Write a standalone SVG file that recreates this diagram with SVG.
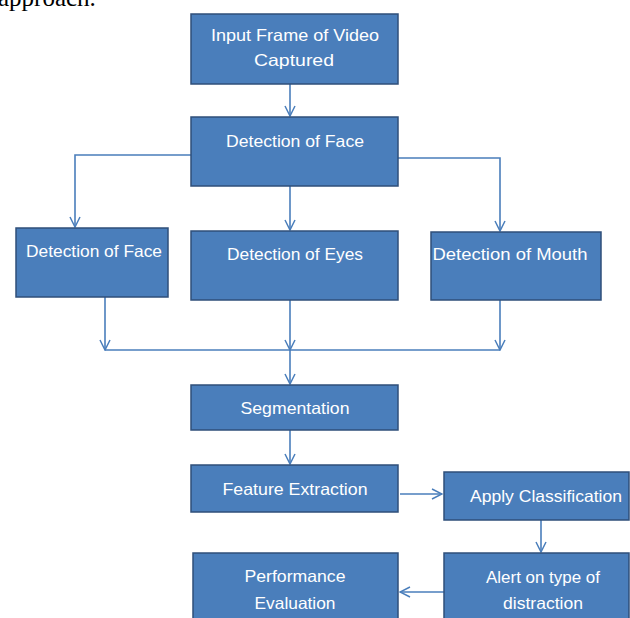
<svg xmlns="http://www.w3.org/2000/svg" width="630" height="618" viewBox="0 0 630 618">
<defs>
<style>
.box{fill:#4a7ebb;stroke:#2f4f7a;stroke-width:1.5}
.t{font-family:"Liberation Sans",Arial,sans-serif;font-size:16.5px;fill:#ffffff;text-anchor:middle}
.c{fill:none;stroke:#4a7ebb;stroke-width:1.6}
.cap{font-family:"Liberation Serif","Times New Roman",serif;font-size:25px;fill:#000}
</style>
<marker id="ah" viewBox="0 0 12 12" refX="11" refY="6" markerWidth="12" markerHeight="12" markerUnits="userSpaceOnUse" orient="auto">
<path d="M1,1 L11,6 L1,11" fill="none" stroke="#4a7ebb" stroke-width="1.5"/>
</marker>
</defs>
<rect width="630" height="618" fill="#ffffff"/>
<text class="cap" x="-2" y="6">approach.</text>
<g id="connectors">
<line class="c" x1="290" y1="84" x2="290" y2="116" marker-end="url(#ah)"/>
<polyline class="c" points="191,155 75,155 75,227" marker-end="url(#ah)"/>
<line class="c" x1="290" y1="186" x2="290" y2="230" marker-end="url(#ah)"/>
<polyline class="c" points="398,158 500,158 500,231" marker-end="url(#ah)"/>
<line class="c" x1="105" y1="297" x2="105" y2="350" marker-end="url(#ah)"/>
<line class="c" x1="290" y1="300" x2="290" y2="350" marker-end="url(#ah)"/>
<line class="c" x1="500" y1="300" x2="500" y2="350" marker-end="url(#ah)"/>
<line class="c" x1="105" y1="350" x2="500" y2="350"/>
<line class="c" x1="290" y1="350" x2="290" y2="384" marker-end="url(#ah)"/>
<line class="c" x1="290" y1="430" x2="290" y2="464" marker-end="url(#ah)"/>
<line class="c" x1="400" y1="494" x2="442" y2="494" marker-end="url(#ah)"/>
<line class="c" x1="541" y1="520" x2="541" y2="552" marker-end="url(#ah)"/>
<line class="c" x1="444" y1="592" x2="400" y2="592" marker-end="url(#ah)"/>
</g>
<g id="n1"><rect class="box" x="191" y="14" width="207" height="70"/>
<text class="t" x="295" y="41" textLength="168" lengthAdjust="spacingAndGlyphs">Input Frame of Video</text>
<text class="t" x="294" y="66" textLength="80" lengthAdjust="spacingAndGlyphs">Captured</text></g>
<g id="n2"><rect class="box" x="191" y="117" width="207" height="69"/>
<text class="t" x="295" y="147" textLength="138" lengthAdjust="spacingAndGlyphs">Detection of Face</text></g>
<g id="n3"><rect class="box" x="16" y="228" width="152" height="69"/>
<text class="t" x="94" y="257" textLength="136" lengthAdjust="spacingAndGlyphs">Detection of Face</text></g>
<g id="n4"><rect class="box" x="191" y="231" width="207" height="69"/>
<text class="t" x="295" y="260" textLength="136" lengthAdjust="spacingAndGlyphs">Detection of Eyes</text></g>
<g id="n5"><rect class="box" x="431" y="232" width="170" height="68"/>
<text class="t" x="510" y="260" textLength="155" lengthAdjust="spacingAndGlyphs">Detection of Mouth</text></g>
<g id="n6"><rect class="box" x="191" y="385" width="207" height="45"/>
<text class="t" x="295" y="414" textLength="109" lengthAdjust="spacingAndGlyphs">Segmentation</text></g>
<g id="n7"><rect class="box" x="191" y="465" width="207" height="47"/>
<text class="t" x="295" y="495" textLength="145" lengthAdjust="spacingAndGlyphs">Feature Extraction</text></g>
<g id="n8"><rect class="box" x="444" y="472" width="185" height="48"/>
<text class="t" x="546" y="502" textLength="152" lengthAdjust="spacingAndGlyphs">Apply Classification</text></g>
<g id="n9"><rect class="box" x="444" y="553" width="185" height="70"/>
<text class="t" x="543" y="583" textLength="114" lengthAdjust="spacingAndGlyphs">Alert on type of</text>
<text class="t" x="543" y="609" textLength="80" lengthAdjust="spacingAndGlyphs">distraction</text></g>
<g id="n10"><rect class="box" x="193" y="553" width="205" height="70"/>
<text class="t" x="295" y="582" textLength="101" lengthAdjust="spacingAndGlyphs">Performance</text>
<text class="t" x="295" y="609" textLength="81" lengthAdjust="spacingAndGlyphs">Evaluation</text></g>
</svg>
